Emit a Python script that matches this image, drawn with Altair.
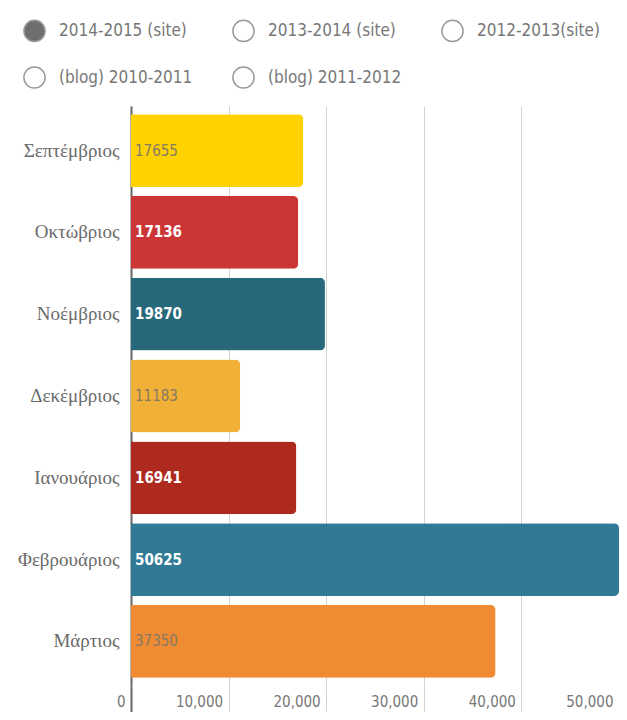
import altair as alt
import pandas as pd

months = ["Σεπτέμβριος", "Οκτώβριος", "Νοέμβριος", "Δεκέμβριος", "Ιανουάριος", "Φεβρουάριος", "Μάρτιος"]
visits = [17655, 17136, 19870, 11183, 16941, 50625, 37350]
bar_colors = ["#ffd200", "#cb3535", "#27697a", "#f1b036", "#ae2a1f", "#307a96", "#f08a33"]
white_label = [False, True, True, False, True, True, False]
series = ["2014-2015 (site)", "2013-2014 (site)", "2012-2013(site)", "(blog) 2010-2011", "(blog) 2011-2012"]
series_fill = ["#6e6e6e", "#ffffff", "#ffffff", "#ffffff", "#ffffff"]
x_ticks = [0, 10000, 20000, 30000, 40000, 50000]

df = pd.DataFrame({"month": months, "visits": visits, "white": white_label})
sdf = pd.DataFrame({"series": series})

NARROW = "Liberation Sans Narrow, DejaVu Sans Condensed, sans-serif"

y_enc = alt.Y(
    "month:N", sort=months,
    scale=alt.Scale(paddingInner=0.11, paddingOuter=0.1),
    axis=alt.Axis(title=None, ticks=False, grid=False, domainColor="#666666", domainWidth=2,
                  labelFont="Liberation Serif", labelFontSize=19, labelColor="#6a6a6a",
                  labelPadding=12),
)
x_enc = alt.X(
    "visits:Q",
    scale=alt.Scale(domain=[0, 50000], nice=False, clamp=True),
    axis=alt.Axis(title=None, values=x_ticks, format=",d", domain=False, grid=True,
                  gridColor="#d3d3d3", ticks=True, tickSize=32,
                  tickColor=alt.condition("datum.value == 0", alt.value("#666666"), alt.value("#d3d3d3")),
                  tickWidth=alt.condition("datum.value == 0", alt.value(2), alt.value(1)),
                  labelAlign="right", labelOffset=-6, labelPadding=-24,
                  labelFont=NARROW, labelFontSize=15, labelColor="#777777"),
)

bars = alt.Chart(df).mark_bar(
    cornerRadiusEnd=alt.expr("datum.visits > 50000 ? 0 : 5")
).encode(
    x=x_enc, y=y_enc,
    color=alt.Color("month:N", scale=alt.Scale(domain=months, range=bar_colors), legend=None),
)

txt_base = alt.Chart(df).encode(
    x=alt.datum(0), y=alt.Y("month:N", sort=months), text="visits:Q",
)
txt_dark = txt_base.transform_filter("!datum.white").mark_text(
    align="left", dx=4, font=NARROW, fontSize=15, color="#857a62")
txt_white = txt_base.transform_filter("datum.white").mark_text(
    align="left", dx=4, font=NARROW, fontSize=15, fontWeight="bold", color="#ffffff")

legend_pts = alt.Chart(sdf).mark_circle(opacity=0).encode(
    fill=alt.Fill(
        "series:N", sort=series,
        scale=alt.Scale(domain=series, range=series_fill),
        legend=alt.Legend(
            title=None, orient="none", legendX=-108, legendY=-87, columns=3,
            direction="horizontal", padding=0,
            symbolType="circle", symbolSize=450, symbolStrokeColor="#9a9a9a",
            symbolStrokeWidth=1.5, symbolOpacity=1,
            labelFont=NARROW, labelFontSize=17, labelColor="#777777",
            columnPadding=36, rowPadding=18, labelOffset=13, labelLimit=300,
        ),
    )
)

chart = alt.layer(bars, txt_dark, txt_white, legend_pts).properties(
    width=488, height=580,
    autosize=alt.AutoSizeParams(type="none"),
    padding={"left": 123, "top": 98, "right": 0, "bottom": 26},
).configure_view(stroke=None)

chart.save("out.html", embed_options={"renderer": "svg", "actions": False})
